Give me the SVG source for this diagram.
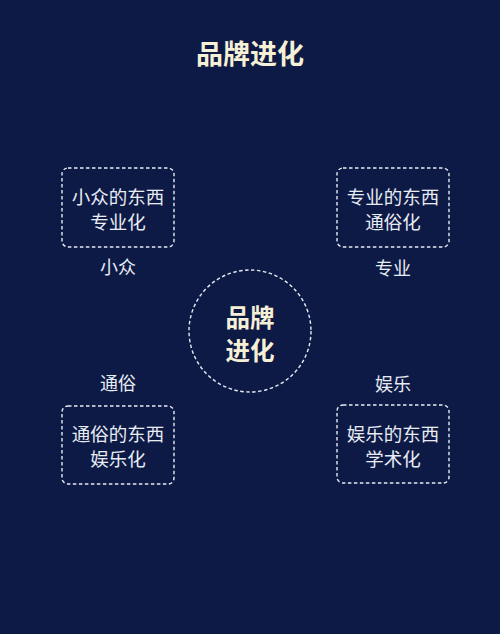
<svg xmlns="http://www.w3.org/2000/svg" width="500" height="634" viewBox="0 0 500 634">
<style>
.box{fill:none;stroke:#e6ecf4;stroke-width:1.4;stroke-dasharray:3.5 2.5}
.t{font-family:"Noto Sans CJK SC","Noto Sans",sans-serif;fill:#e8edf4;font-size:18.5px;text-anchor:middle}
.lab{font-family:"Noto Sans CJK SC","Noto Sans",sans-serif;fill:#e8edf4;font-size:18px;text-anchor:middle}
.b{font-family:"Noto Sans CJK SC","Noto Sans",sans-serif;fill:#f6f0d6;font-weight:bold;text-anchor:middle}
</style>
<rect width="500" height="634" fill="#0e1a46"/>
<text class="b" x="250" y="64" font-size="27">品牌进化</text>
<g id="center">
<circle class="box" cx="250" cy="331" r="61"/>
<text class="b" x="250" y="327" font-size="24.5">品牌</text>
<text class="b" x="250" y="360" font-size="24.5">进化</text>
</g>
<g id="n1">
<rect class="box" x="62" y="168" width="112" height="79" rx="6"/>
<text class="t" x="118" y="204">小众的东西</text>
<text class="t" x="118" y="229">专业化</text>
<text class="lab" x="118" y="274">小众</text>
</g>
<g id="n2">
<rect class="box" x="337" y="168" width="112" height="79" rx="6"/>
<text class="t" x="393" y="204">专业的东西</text>
<text class="t" x="393" y="229">通俗化</text>
<text class="lab" x="393" y="275">专业</text>
</g>
<g id="n3">
<rect class="box" x="62" y="406" width="112" height="78" rx="6"/>
<text class="t" x="118" y="441">通俗的东西</text>
<text class="t" x="118" y="466">娱乐化</text>
<text class="lab" x="118" y="390">通俗</text>
</g>
<g id="n4">
<rect class="box" x="337" y="405" width="112" height="78" rx="6"/>
<text class="t" x="393" y="441">娱乐的东西</text>
<text class="t" x="393" y="466">学术化</text>
<text class="lab" x="393" y="391">娱乐</text>
</g>
<g id="connectors"></g>
</svg>
